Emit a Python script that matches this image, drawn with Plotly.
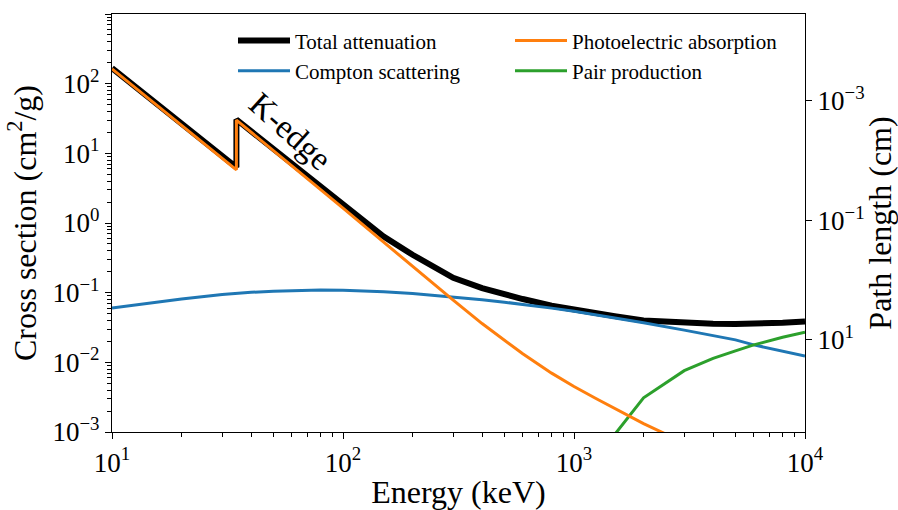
import plotly.graph_objects as go

# Photon energies (keV); the repeated value is the K absorption edge
energy_kev = [10, 15, 20, 30, 34.56, 34.56, 40, 50, 60, 80, 100, 150, 200, 300,
              400, 500, 600, 800, 1000, 1250, 1500, 2000, 3000, 4000, 5000,
              6000, 8000, 10000]

# Mass cross sections (cm^2/g)
total_attenuation = [167, 56.5, 26.5, 9.1, 6.3, 30.6, 20.7, 11.5, 7.0, 3.25, 1.81,
                     0.64, 0.35, 0.163, 0.116, 0.093, 0.081, 0.065, 0.0565, 0.050,
                     0.046, 0.040, 0.037, 0.0359, 0.0356, 0.0358, 0.037, 0.0384]
photoelectric = [163, 54.8, 25.3, 8.5, 5.8, 30, 20.2, 11.0, 6.7, 3.02, 1.63, 0.53,
                 0.237, 0.078, 0.036, 0.0205, 0.0133, 0.0070, 0.0045, 0.0030, 0.0022,
                 0.00132, 0.00070, 0.00045, 0.00033, 0.00026, 0.00018, 0.00014]
compton = [0.060, 0.0725, 0.081, 0.094, 0.098, 0.098, 0.101, 0.105, 0.107, 0.109,
           0.108, 0.103, 0.097, 0.087, 0.079, 0.073, 0.068, 0.060, 0.054, 0.048,
           0.044, 0.037, 0.029, 0.0245, 0.021, 0.0178, 0.0144, 0.0123]
pair_production = [None] * 20 + [0.00092, 0.0031, 0.0076, 0.0114, 0.0146, 0.0178,
                                 0.0229, 0.027]

# Axis tick labels
left_tick_vals = [1e-3, 1e-2, 1e-1, 1e0, 1e1, 1e2, 1e3]
left_tick_text = ["10<sup>−3</sup>", "10<sup>−2</sup>", "10<sup>−1</sup>",
                  "10<sup>0</sup>", "10<sup>1</sup>", "10<sup>2</sup>", "10<sup>3</sup>"]
x_tick_vals = [1e1, 1e2, 1e3, 1e4]
x_tick_text = ["10<sup>1</sup>", "10<sup>2</sup>", "10<sup>3</sup>", "10<sup>4</sup>"]
right_tick_vals = [1e-3, 1e-1, 1e1]
right_tick_text = ["10<sup>−3</sup>", "10<sup>−1</sup>", "10<sup>1</sup>"]

# Minor log ticks (2..9 in every decade)
x_minor = [m * 10 ** d for d in range(1, 4) for m in range(2, 10)]
y_minor = [m * 10 ** d for d in range(-3, 3) for m in range(2, 10)]

FONT = "Liberation Serif, DejaVu Serif, serif"

fig = go.Figure()
fig.add_trace(go.Scatter(x=energy_kev, y=total_attenuation, mode="lines",
                         name="Total attenuation", legendrank=1,
                         line=dict(color="black", width=6)))
fig.add_trace(go.Scatter(x=energy_kev, y=compton, mode="lines",
                         name="Compton scattering", legendrank=3,
                         line=dict(color="#1f77b4", width=3)))
fig.add_trace(go.Scatter(x=energy_kev, y=pair_production, mode="lines",
                         name="Pair production", legendrank=4,
                         line=dict(color="#2ca02c", width=3)))
fig.add_trace(go.Scatter(x=energy_kev, y=photoelectric, mode="lines",
                         name="Photoelectric absorption", legendrank=2,
                         line=dict(color="#ff7f0e", width=3)))
# Empty trace so the secondary (path length) axis is laid out
fig.add_trace(go.Scatter(x=[], y=[], yaxis="y2", showlegend=False,
                         hoverinfo="skip"))

fig.add_annotation(text="K-edge", xref="paper", yref="paper", x=0.257, y=0.72,
                   xanchor="center", yanchor="middle",
                   showarrow=False, textangle=42,
                   font=dict(family=FONT, size=33, color="black"))

tick_common = dict(ticks="outside", ticklen=6, tickwidth=1, tickcolor="black",
                   showgrid=False, zeroline=False, showline=True,
                   linecolor="black", linewidth=1.2, automargin=False)
minor_common = dict(ticks="outside", ticklen=3.5, tickwidth=1, tickcolor="black",
                    showgrid=False, tickmode="array")

fig.update_layout(
    width=898, height=510,
    margin=dict(l=112, r=93, t=14, b=78),
    paper_bgcolor="white", plot_bgcolor="white",
    font=dict(family=FONT, color="black"),
    showlegend=True,
    legend=dict(orientation="h", x=0.1746, y=0.985, xanchor="left", yanchor="top",
                entrywidth=210, entrywidthmode="pixels", itemwidth=52,
                font=dict(family=FONT, size=21, color="black"),
                bgcolor="rgba(0,0,0,0)", traceorder="normal"),
    xaxis=dict(type="log", range=[1, 4], mirror=True, **tick_common,
               tickvals=x_tick_vals, ticktext=x_tick_text,
               tickfont=dict(family=FONT, size=27),
               minor=dict(tickvals=x_minor, **minor_common),
               title=dict(text="Energy (keV)", font=dict(family=FONT, size=32),
                          standoff=6)),
    yaxis=dict(type="log", range=[-3, 3], **tick_common,
               tickvals=left_tick_vals, ticktext=left_tick_text,
               tickfont=dict(family=FONT, size=27),
               minor=dict(tickvals=y_minor, **minor_common),
               title=dict(text="Cross section (cm<sup>2</sup>/g)",
                          font=dict(family=FONT, size=32), standoff=6)),
    yaxis2=dict(type="log", range=[2.54, -4.456], overlaying="y", side="right",
                anchor="x", **tick_common,
                tickvals=right_tick_vals, ticktext=right_tick_text,
                tickfont=dict(family=FONT, size=27),
                title=dict(text="Path length (cm)", font=dict(family=FONT, size=32),
                           standoff=6)),
)

fig.write_html("out.html")
